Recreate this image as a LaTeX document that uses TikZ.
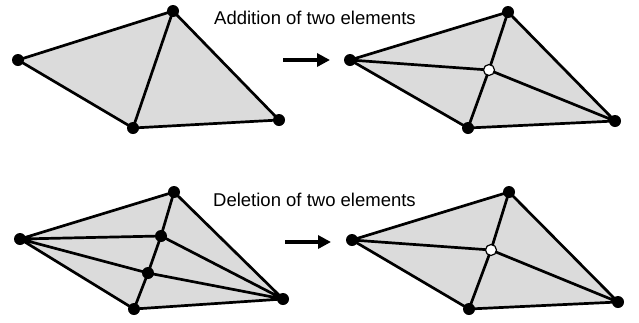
\documentclass[tikz,border=0pt]{standalone}
\usepackage{fontspec}
\setmainfont{Liberation Sans}
\usetikzlibrary{arrows.meta}
\begin{document}
\begin{tikzpicture}[x=1pt,y=-1pt,
  edge/.style={line width=2.7pt,line join=round},
  meshfill/.style={fill=black!14,draw=none},
  vtx/.style={circle,fill=black,inner sep=0pt,minimum size=12pt},
  hole/.style={circle,fill=white,draw=black,line width=1.2pt,inner sep=0pt,minimum size=11pt},
  lbl/.style={font=\fontsize{18.5}{20}\selectfont,inner sep=0pt,anchor=west},
  bigarrow/.style={line width=4pt,-{Triangle[length=13pt,width=13pt]}}]
\useasboundingbox (0,0) rectangle (639,322);
% ---------- top left
\coordinate (aL) at (18,60);
\coordinate (aT) at (173,11);
\coordinate (aB) at (133,128);
\coordinate (aR) at (279,120);
\fill[meshfill] (aL)--(aT)--(aR)--(aB)--cycle;
\draw[edge] (aL)--(aT)--(aR)--(aB)--cycle (aT)--(aB);
\foreach \p in {aL,aT,aB,aR} \node[vtx] (n\p) at (\p) {};
% ---------- top right
\coordinate (bL) at (350,60);
\coordinate (bT) at (508,12);
\coordinate (bB) at (468,128);
\coordinate (bR) at (615,121);
\coordinate (bC) at (489,70);
\fill[meshfill] (bL)--(bT)--(bR)--(bB)--cycle;
\draw[edge] (bL)--(bT)--(bR)--(bB)--cycle (bT)--(bC)--(bB) (bL)--(bC)--(bR);
\foreach \p in {bL,bT,bB,bR} \node[vtx] (n\p) at (\p) {};
\node[hole] (nbC) at (bC) {};
% ---------- bottom left
\coordinate (cL) at (20,239);
\coordinate (cT) at (174,192);
\coordinate (c1) at (161,236);
\coordinate (c2) at (148,273);
\coordinate (cB) at (134,309);
\coordinate (cR) at (283,299);
\fill[meshfill] (cL)--(cT)--(cR)--(cB)--cycle;
\draw[edge] (cL)--(cT)--(cR)--(cB)--cycle (cT)--(c1)--(c2)--(cB)
  (cL)--(c1)--(cR) (cL)--(c2)--(cR);
\foreach \p in {cL,cT,c1,c2,cB,cR} \node[vtx] (n\p) at (\p) {};
% ---------- bottom right
\coordinate (dL) at (352,240);
\coordinate (dT) at (509,192);
\coordinate (dC) at (491,250);
\coordinate (dB) at (469,309);
\coordinate (dR) at (618,302);
\fill[meshfill] (dL)--(dT)--(dR)--(dB)--cycle;
\draw[edge] (dL)--(dT)--(dR)--(dB)--cycle (dT)--(dC)--(dB) (dL)--(dC)--(dR);
\foreach \p in {dL,dT,dB,dR} \node[vtx] (n\p) at (\p) {};
\node[hole] (ndC) at (dC) {};
% ---------- labels and arrows
\node[lbl] (t1) at (214,18) {Addition of two elements};
\node[lbl] (t2) at (213,200) {Deletion of two elements};
\coordinate (a1s) at (283,60);
\coordinate (a1e) at (330,60);
\coordinate (a2s) at (285,242);
\coordinate (a2e) at (331,242);
\draw[bigarrow] (a1s) -- (a1e);
\draw[bigarrow] (a2s) -- (a2e);
\end{tikzpicture}
\end{document}
